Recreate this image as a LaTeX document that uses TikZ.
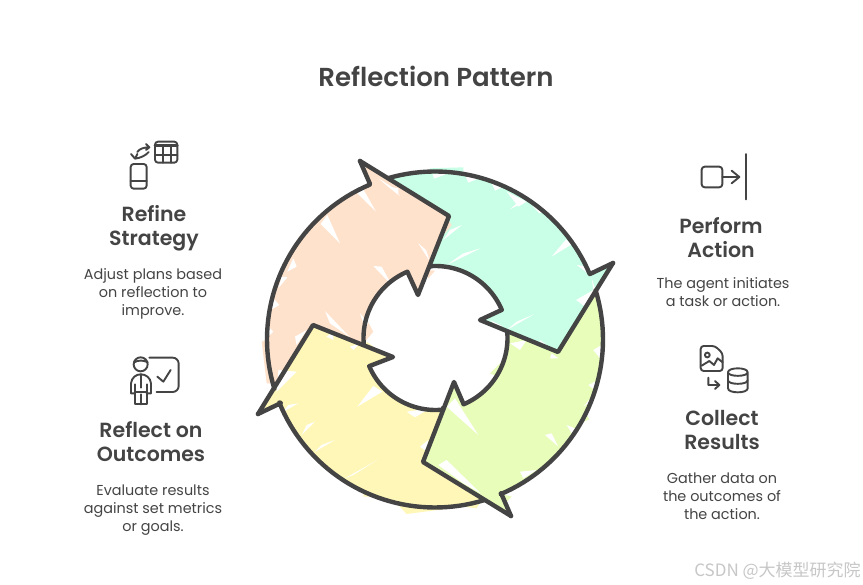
\documentclass[tikz,border=0pt]{standalone}
\usepackage{fontspec}
\setmainfont{Poppins}
\newfontfamily\headfont{Poppins}[UprightFont=* SemiBold]
\newfontfamily\cjkfont{Noto Sans CJK SC}
\definecolor{ink}{HTML}{444444}
\definecolor{mint}{HTML}{C8FFE6}
\definecolor{lime}{HTML}{E8FDBA}
\definecolor{butter}{HTML}{FFF7B8}
\definecolor{peach}{HTML}{FFE2CC}
\tikzset{
  ring/.style={draw=ink,line width=4.4pt,line join=round,line cap=round},
  icon/.style={draw=ink,line width=1.9pt,line join=round,line cap=round},
  headtext/.style={text=ink,align=center,font=\headfont\fontsize{20.5}{24}\selectfont},
  bodytext/.style={text=ink,align=center,font=\fontsize{14.4}{18}\selectfont},
  gap/.style={fill=white,draw=none},
  arcrange/.style={domain=#1,samples=40},
  declare function={ox(\t)=435+168*cos(\t);oy(\t)=339.5-168*sin(\t);ix(\t)=435.5+72*cos(\t);iy(\t)=338-72*sin(\t);},
}
\begin{document}
\begin{tikzpicture}[x=1pt,y=-1pt]
\useasboundingbox (0,0) rectangle (863,585);
\fill[white] (0,0) rectangle (863,585);

% colour fills
\fill[mint] (613,263) -- (590,274) -- plot[arcrange=23:106] ({ox(\x)},{oy(\x)}) -- (449,216) -- (430,267) -- plot[arcrange=94:23] ({ix(\x)},{iy(\x)}) -- (480,320) -- (558,352) -- cycle;
\fill[lime] (511,516) -- (501,493) -- plot[arcrange=-67:17] ({ox(\x)},{oy(\x)}) -- (558,352) -- (507,332) -- plot[arcrange=5:-67] ({ix(\x)},{iy(\x)}) -- (454,382) -- (423,462) -- cycle;
\fill[butter] (258,414) -- (281,403) -- plot[arcrange=202:287] ({ox(\x)},{oy(\x)}) -- (423,462) -- (443,408) -- plot[arcrange=276:203] ({ix(\x)},{iy(\x)}) -- (393,357) -- (313,325) -- cycle;
\fill[peach] (360,161) -- (370,184) -- plot[arcrange=113:197] ({ox(\x)},{oy(\x)}) -- (313,325) -- (363,345) -- plot[arcrange=185:113] ({ix(\x)},{iy(\x)}) -- (418,295) -- (449,216) -- cycle;

% sketchy overflow and gaps, in the coordinates of a 3x crop
\begin{scope}[x=0.33333pt,y=-0.33333pt,shift={(750,450)}]
\fill[peach] (35,575) -- (58,565) -- (75,700) -- (50,700) -- cycle;
\fill[peach] (590,205) -- (605,225) -- (585,250) -- cycle;
\fill[peach] (530,360) -- (555,362) -- (535,385) -- cycle;
\fill[peach] (340,490) -- (370,545) -- (345,575) -- cycle;
\fill[butter] (345,1010) -- (360,1040) -- (340,1040) -- cycle;
\fill[butter] (440,1060) -- (700,1040) -- (680,1075) -- (640,1070) -- (470,1092) -- cycle;
\fill[lime] (750,1030) -- (785,1040) -- (770,1055) -- cycle;
\fill[lime] (1000,780) -- (1018,808) -- (990,820) -- cycle;
\fill[lime] (1040,480) -- (1060,480) -- (1060,640) -- (1040,640) -- cycle;
\fill[lime] (720,670) -- (750,640) -- (770,690) -- cycle;
\fill[mint] (540,55) -- (640,52) -- (640,75) -- (540,75) -- cycle;
\fill[butter] (350,575) -- (370,590) -- (345,600) -- cycle;
% mint
\fill[gap] (780,178) -- (835,150) -- (800,160) -- cycle;
\fill[gap] (905,320) -- (965,283) -- (948,268) -- cycle;
\fill[gap] (590,345) -- (692,295) -- (640,310) -- cycle;
\fill[gap] (770,540) -- (852,493) -- (800,515) -- cycle;
\fill[gap] (580,270) -- (636,225) -- (600,240) -- cycle;
\fill[gap] (548,72) -- (590,72) -- (552,86) -- cycle;
\fill[gap] (645,75) -- (700,80) -- (655,98) -- cycle;
\fill[gap] (725,100) -- (770,105) -- (735,122) -- cycle;
\fill[gap] (770,125) -- (830,155) -- (805,170) -- cycle;
\fill[gap] (845,165) -- (890,185) -- (868,190) -- cycle;
\fill[gap] (1025,385) -- (1030,420) -- (978,450) -- (1005,470) -- (1040,430) -- cycle;
\fill[gap] (980,345) -- (1015,350) -- (1020,375) -- cycle;
\fill[gap] (420,110) -- (445,115) -- (445,135) -- cycle;
\fill[gap] (720,510) -- (760,530) -- (735,525) -- cycle;
% peach
\fill[gap] (232,195) -- (270,280) -- (212,222) -- cycle;
\fill[gap] (322,130) -- (378,185) -- (340,118) -- cycle;
\fill[gap] (370,348) -- (425,405) -- (395,350) -- cycle;
\fill[gap] (225,483) -- (300,562) -- (240,520) -- cycle;
\fill[gap] (505,280) -- (540,335) -- (528,300) -- cycle;
\fill[gap] (130,325) -- (140,350) -- (112,365) -- cycle;
\fill[gap] (95,380) -- (112,382) -- (85,415) -- cycle;
\fill[gap] (70,445) -- (88,465) -- (62,480) -- cycle;
\fill[gap] (55,530) -- (70,545) -- (55,560) -- cycle;
\fill[gap] (135,560) -- (170,540) -- (140,585) -- cycle;
\fill[gap] (330,490) -- (355,520) -- (345,535) -- cycle;
\fill[gap] (385,85) -- (425,110) -- (450,138) -- (420,115) -- cycle;
% butter
\fill[gap] (322,770) -- (397,725) -- (370,708) -- cycle;
\fill[gap] (155,855) -- (195,815) -- (170,825) -- cycle;
\fill[gap] (195,905) -- (255,870) -- (215,885) -- cycle;
\fill[gap] (285,985) -- (382,930) -- (310,975) -- cycle;
\fill[gap] (100,785) -- (145,760) -- (115,765) -- cycle;
\fill[gap] (470,785) -- (495,802) -- (540,775) -- cycle;
\fill[gap] (510,890) -- (535,870) -- (530,905) -- cycle;
\fill[gap] (85,660) -- (140,665) -- (80,725) -- cycle;
\fill[gap] (300,590) -- (330,580) -- (310,600) -- cycle;
\fill[gap] (230,560) -- (250,545) -- (250,570) -- cycle;
% lime
\fill[gap] (590,770) -- (685,855) -- (615,745) -- cycle;
\fill[gap] (885,855) -- (925,890) -- (905,850) -- cycle;
\fill[gap] (590,930) -- (692,1030) -- (640,1000) -- (565,945) -- cycle;
\fill[gap] (1000,770) -- (1025,740) -- (1040,745) -- cycle;
\fill[gap] (1015,705) -- (1045,690) -- (1040,725) -- cycle;
\fill[gap] (1030,600) -- (1055,585) -- (1050,625) -- cycle;
\fill[gap] (810,965) -- (860,960) -- (820,985) -- cycle;
\fill[gap] (950,825) -- (975,835) -- (965,850) -- cycle;
\fill[gap] (780,580) -- (830,570) -- (810,600) -- cycle;
\fill[gap] (870,570) -- (890,585) -- (870,590) -- cycle;
\fill[gap] (905,610) -- (925,625) -- (900,625) -- cycle;
\end{scope}

% arrow outlines
\draw[ring] (613,263) -- (590,274) -- plot[arcrange=23:106] ({ox(\x)},{oy(\x)});
\draw[ring] (430,267) -- plot[arcrange=94:23] ({ix(\x)},{iy(\x)}) -- (480,320) -- (558,352) -- (613,263);
\draw[ring] (511,516) -- (501,493) -- plot[arcrange=-67:17] ({ox(\x)},{oy(\x)});
\draw[ring] (507,332) -- plot[arcrange=5:-67] ({ix(\x)},{iy(\x)}) -- (454,382) -- (423,462) -- (511,516);
\draw[ring] (258,414) -- (281,403) -- plot[arcrange=202:287] ({ox(\x)},{oy(\x)});
\draw[ring] (443,408) -- plot[arcrange=276:203] ({ix(\x)},{iy(\x)}) -- (393,357) -- (313,325) -- (258,414);
\draw[ring] (360,161) -- (370,184) -- plot[arcrange=113:197] ({ox(\x)},{oy(\x)});
\draw[ring] (363,345) -- plot[arcrange=185:113] ({ix(\x)},{iy(\x)}) -- (418,295) -- (449,216) -- (360,161);

% icons: Refine Strategy
\begin{scope}[x=0.33333pt,y=-0.33333pt,shift={(240,390)}]
\draw[icon,rounded corners=3pt] (152,102) rectangle (200,176);
\draw[icon] (152,152) -- (200,152);
\draw[icon,rounded corners=3pt] (225,35) rectangle (292,98);
\draw[icon,line width=2.6pt] (225,46) -- (292,46);
\draw[icon] (225,74) -- (292,74) (250,52) -- (250,98) (272,52) -- (272,98);
\draw[icon] (172,66) .. controls (178,56) and (192,52) .. (208,52) (198,42) -- (208,52) -- (198,60);
\draw[icon] (206,66) .. controls (198,76) and (182,84) .. (165,86) (153,72) -- (165,86) -- (172,72);
\end{scope}

% icons: Reflect on Outcomes
\begin{scope}[x=0.33333pt,y=-0.33333pt,shift={(240,1035)}]
\draw[icon] (182,58) circle[radius=7pt];
\draw[icon] (162,52) .. controls (175,45) and (190,45) .. (203,52);
\draw[icon,rounded corners=6pt] (208,38) -- (296,38) -- (296,141) -- (230,141);
\draw[icon] (232,95) -- (250,110) -- (272,75);
\draw[icon] (165,145) -- (153,145) -- (153,115) .. controls (155,98) and (168,88) .. (182,88) .. controls (198,88) and (211,98) .. (213,115) -- (213,145) -- (200,145);
\draw[icon] (165,118) -- (165,178) -- (200,178) -- (200,118);
\draw[icon] (182,88) -- (182,128) (182,148) -- (182,178);
\draw[icon] (165,140) -- (200,140);
\end{scope}

% icons: Perform Action
\begin{scope}[x=0.33333pt,y=-0.33333pt,shift={(1950,420)}]
\draw[icon,rounded corners=3pt] (155,80) rectangle (217,142);
\draw[icon] (217,111) -- (268,111) (245,92) -- (268,111) -- (245,130);
\draw[icon] (287,42) -- (287,178);
\end{scope}

% icons: Collect Results
\begin{scope}[x=0.33333pt,y=-0.33333pt,shift={(1950,1005)}]
\draw[icon,rounded corners=3pt] (152,33) -- (195,33) -- (218,55) -- (218,108) -- (152,108) -- cycle;
\draw[icon] (172,60) circle[radius=2.4pt];
\draw[icon] (155,92) -- (178,78) -- (192,90) -- (203,70) -- (218,82);
\draw[icon] (175,128) -- (175,150) -- (208,150) (195,138) -- (208,150) -- (195,162);
\draw[icon] (234,112) .. controls (234,96) and (293,96) .. (293,112) .. controls (293,126) and (234,126) .. (234,112) -- (234,160) .. controls (234,176) and (293,176) .. (293,160) -- (293,112);
\draw[icon] (234,136) .. controls (234,150) and (293,150) .. (293,136);
\end{scope}

% texts
\node[text=ink,font=\headfont\fontsize{26}{30}\selectfont] (title) at (436,76) {Reflection Pattern};
\node[headtext] (h1) at (154,228) {Refine\\Strategy};
\node[bodytext] (b1) at (153,294) {Adjust plans based\\on reflection to\\improve.};
\node[headtext] (h2) at (151,442) {Reflect on\\Outcomes};
\node[bodytext] (b2) at (153,510) {Evaluate results\\against set metrics\\or goals.};
\node[headtext] (h3) at (721,238) {Perform\\Action};
\node[bodytext] (b3) at (723,292) {The agent initiates\\a task or action.};
\node[headtext] (h4) at (722,430) {Collect\\Results};
\node[bodytext] (b4) at (722,496) {Gather data on\\the outcomes of\\the action.};
\node[text=black!22,font=\fontsize{17}{20}\selectfont\cjkfont] (mark) at (777.5,571) {CSDN @大模型研究院};
\end{tikzpicture}
\end{document}
